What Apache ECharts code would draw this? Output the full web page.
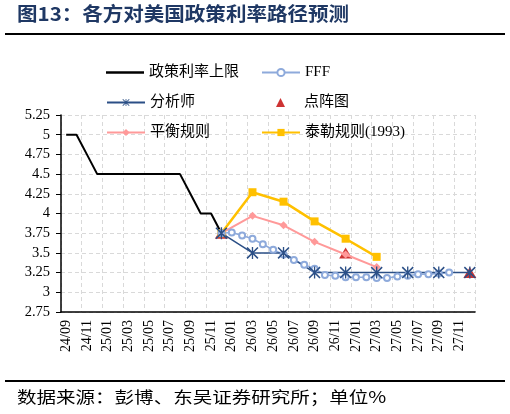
<!DOCTYPE html>
<html>
<head>
<meta charset="utf-8">
<script src="https://cdn.jsdelivr.net/npm/echarts@6/dist/echarts.min.js"></script>
<style>html,body{margin:0;padding:0;background:#fff;}#c{width:510px;height:414px;}</style>
</head>
<body>
<div id="c"></div>
<script>
const categories = ['24/09','24/10','24/11','24/12',
  '25/01','25/02','25/03','25/04','25/05','25/06','25/07','25/08','25/09','25/10','25/11','25/12',
  '26/01','26/02','26/03','26/04','26/05','26/06','26/07','26/08','26/09','26/10','26/11','26/12',
  '27/01','27/02','27/03','27/04','27/05','27/06','27/07','27/08','27/09','27/10','27/11','27/12'];
const N = null;
const policyCap = [5,5,4.75,4.5, 4.5,4.5,4.5,4.5,4.5,4.5,4.5,4.5,4.25,4,4,3.75,
  N,N,N,N,N,N,N,N,N,N,N,N, N,N,N,N,N,N,N,N,N,N,N,N];
const fff = [N,N,N,N, N,N,N,N,N,N,N,N,N,N,N,3.75,
  3.76,3.72,3.68,3.61,3.54,3.48,3.41,3.35,3.30,3.22,3.21,3.19,
  3.19,3.19,3.18,3.18,3.20,3.21,3.23,3.23,3.24,3.25,N,N];
const analyst = [N,N,N,N, N,N,N,N,N,N,N,N,N,N,N,3.75,
  N,N,3.5,N,N,3.5,N,N,3.25,N,N,3.25,
  N,N,3.25,N,N,3.25,N,N,3.25,N,N,3.25];
const dotPlot = [N,N,N,N, N,N,N,N,N,N,N,N,N,N,N,3.75,
  N,N,N,N,N,N,N,N,N,N,N,3.5,
  N,N,N,N,N,N,N,N,N,N,N,3.25];
const balanceRule = [N,N,N,N, N,N,N,N,N,N,N,N,N,N,N,3.75,
  N,N,3.97,N,N,3.85,N,N,3.64,N,N,3.48,
  N,N,3.32,N,N,N,N,N,N,N,N,N];
const taylorRule = [N,N,N,N, N,N,N,N,N,N,N,N,N,N,N,3.75,
  N,N,4.27,N,N,4.15,N,N,3.90,N,N,3.68,
  N,N,3.45,N,N,N,N,N,N,N,N,N];
const yTicks = {min: 2.75, max: 5.25, interval: 0.25};

const FONT = '"Liberation Serif", "Noto Sans CJK SC", serif';
const starPath = 'path://M0 0.9L0.9 0L10 9.1L9.1 10Z M9.1 0L10 0.9L0.9 10L0 9.1Z M4.45 0L5.55 0L5.55 10L4.45 10Z';

function lg(name, left, cy, extra) {
  return Object.assign({
    data: [name], left: left, top: cy - 8, padding: 0,
    itemWidth: 38, itemHeight: 9,
    textStyle: {fontFamily: FONT, fontSize: 15, color: '#000'},
    selectedMode: false
  }, extra || {});
}

const chart = echarts.init(document.getElementById('c'));
chart.setOption({
  animation: false,
  backgroundColor: '#fff',
  graphic: [
    {type: 'text', left: 17, top: 4, scaleX: 1.08,
      style: {text: '图13：各方对美国政策利率路径预测', fontFamily: '"Noto Sans CJK SC", sans-serif', fontSize: 19, fontWeight: 'bold', fill: '#1f3864'}},
    {type: 'line', shape: {x1: 5, y1: 34, x2: 505, y2: 34}, style: {stroke: '#000', lineWidth: 2}},
    {type: 'line', shape: {x1: 5, y1: 381, x2: 505, y2: 381}, style: {stroke: '#000', lineWidth: 2}},
    {type: 'text', left: 17, top: 389, scaleX: 1.22,
      style: {text: '数据来源：彭博、东吴证券研究所；单位%', fontFamily: '"Noto Sans CJK SC", sans-serif', fontSize: 16, fill: '#000'}}
  ],
  legend: [
    lg('政策利率上限', 106, 73, {icon: 'rect', itemHeight: 2.5}),
    lg('FFF', 261, 73),
    lg('分析师', 106, 103),
    lg('点阵图', 276, 103, {itemWidth: 9, itemHeight: 9, icon: 'triangle', textStyle: {fontFamily: FONT, fontSize: 15, color: '#000', padding: [0,0,0,14]}}),
    lg('平衡规则', 106, 133),
    lg('泰勒规则(1993)', 261, 133)
  ],
  grid: {left: 61, right: 35, top: 115, bottom: 102, containLabel: false},
  xAxis: {
    type: 'category', data: categories, boundaryGap: true,
    axisLine: {lineStyle: {color: '#000', width: 1.5}},
    axisTick: {interval: 1, length: 5, lineStyle: {color: '#000', width: 1}},
    axisLabel: {interval: 1, rotate: 90, margin: 8, fontFamily: FONT, fontSize: 14, color: '#000'},
    splitLine: {show: true, interval: 1, lineStyle: {color: '#d9d9d9', type: [4, 3], width: 1}}
  },
  yAxis: {
    type: 'value', min: yTicks.min, max: yTicks.max, interval: yTicks.interval,
    axisLine: {show: true, lineStyle: {color: '#000', width: 1.5}},
    axisTick: {show: true, length: 5, lineStyle: {color: '#000'}},
    axisLabel: {margin: 11, fontFamily: FONT, fontSize: 14.5, color: '#000'},
    splitLine: {show: true, lineStyle: {color: '#d9d9d9', type: [4, 3], width: 1}}
  },
  series: [
    {name: '政策利率上限', type: 'line', data: policyCap, symbol: 'none',
      lineStyle: {color: '#000', width: 2}, itemStyle: {color: '#000'}},
    {name: '泰勒规则(1993)', type: 'line', data: taylorRule, connectNulls: true,
      symbol: 'rect', symbolSize: 8, showAllSymbol: true,
      lineStyle: {color: '#ffc000', width: 2.5}, itemStyle: {color: '#ffc000'}},
    {name: '平衡规则', type: 'line', data: balanceRule, connectNulls: true,
      symbol: 'diamond', symbolSize: 8, showAllSymbol: true,
      lineStyle: {color: '#ff9999', width: 2}, itemStyle: {color: '#ff9999'}},
    {name: 'FFF', type: 'line', data: fff, connectNulls: true,
      symbol: 'emptyCircle', symbolSize: 6, showAllSymbol: true,
      lineStyle: {color: '#8eaadb', width: 1.5}, itemStyle: {color: '#8eaadb', borderWidth: 1.5}},
    {name: '分析师', type: 'line', data: analyst, connectNulls: true,
      symbol: starPath, symbolSize: 12, showAllSymbol: true,
      lineStyle: {color: '#2b4f86', width: 1.5}, itemStyle: {color: '#2b4f86'}},
    {name: '点阵图', type: 'scatter', data: dotPlot,
      symbol: 'triangle', symbolSize: [13, 11],
      itemStyle: {color: '#c00000'}}
  ]
});
</script>
</body>
</html>
